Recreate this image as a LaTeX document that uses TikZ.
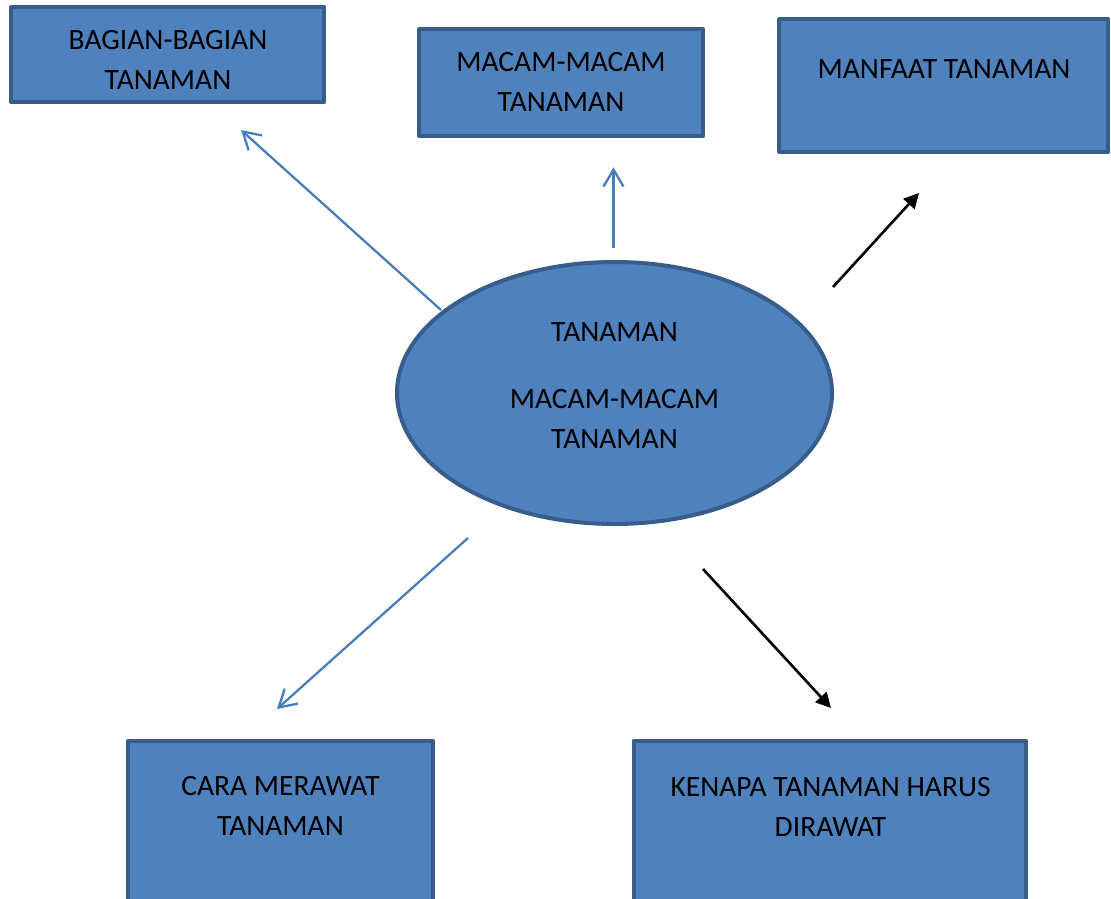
\documentclass[tikz,border=0pt]{standalone}
\usepackage{fontspec}
\setmainfont{Carlito}
\usetikzlibrary{arrows.meta,shapes.geometric}
\definecolor{boxfill}{HTML}{4F81BD}
\definecolor{boxline}{HTML}{385D8A}
\definecolor{arrowblue}{HTML}{4A7EBB}
\begin{document}
\begin{tikzpicture}[x=1pt,y=-1pt,
  boxstyle/.style={draw=boxline,fill=boxfill,line width=4pt,line join=round},
  txt/.style={font=\fontsize{29.5}{40}\selectfont,align=center,inner sep=0pt,text=black},
  bluearrow/.style={draw=arrowblue,line width=2.3pt,-{Straight Barb[length=17pt,width=20pt,line width=2.3pt]}},
  blackarrow/.style={draw=black,line width=2.6pt,-{Triangle[length=15pt,width=15pt]}}
]
\clip (0,0) rectangle (1111,899);
\fill[white] (0,0) rectangle (1111,899);
% boxes
\path[boxstyle] (11.3,7.3) rectangle (324,102);
\node[txt] (t1) at (168,59.5) {BAGIAN-BAGIAN\\TANAMAN};
\path[boxstyle] (419.3,29.3) rectangle (703,136.3);
\node[txt] (t2) at (561,81.5) {MACAM-MACAM\\TANAMAN};
\path[boxstyle] (779.3,19.3) rectangle (1108,152);
\node[txt] (t3) at (944,69.2) {MANFAAT TANAMAN};
\path[boxstyle] (128,741) rectangle (433,920);
\node[txt] (t4) at (280.5,806) {CARA MERAWAT\\TANAMAN};
\path[boxstyle] (633.7,741) rectangle (1026,920);
\node[txt] (t5) at (830.5,806.5) {KENAPA TANAMAN HARUS\\DIRAWAT};
% ellipse
\node[ellipse,draw=boxline,fill=boxfill,line width=4pt,minimum width=435pt,minimum height=262pt,inner sep=0pt] (center) at (614.5,393) {};
\node[txt] (tc) at (614.5,385.5) {TANAMAN\\[27.3pt]MACAM-MACAM\\TANAMAN};
% arrow end points
\coordinate (a1s) at (441,310);
\coordinate (a1e) at (241,130);
\coordinate (a2s) at (613.5,248.3);
\coordinate (a2e) at (613.5,167.3);
\coordinate (a3s) at (833,287);
\coordinate (a3e) at (919,193);
\coordinate (a4s) at (468,538);
\coordinate (a4e) at (277,709);
\coordinate (a5s) at (703,569);
\coordinate (a5e) at (831,708);
\draw[bluearrow] (a1s) -- (a1e);
\draw[bluearrow] (a2s) -- (a2e);
\draw[blackarrow] (a3s) -- (a3e);
\draw[bluearrow] (a4s) -- (a4e);
\draw[blackarrow] (a5s) -- (a5e);
\end{tikzpicture}
\end{document}
